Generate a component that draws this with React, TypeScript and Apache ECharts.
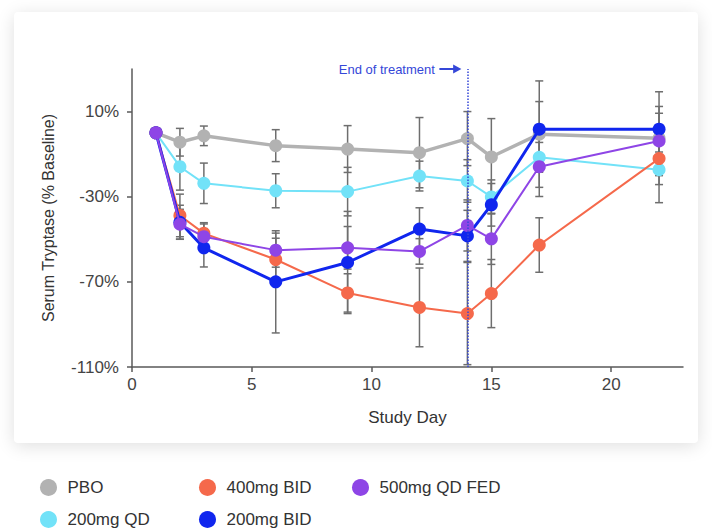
import React, { useEffect, useRef } from "react";
import * as echarts from "echarts";

const days = [1, 2, 3, 6, 9, 12, 14, 15, 17, 22];
const pbo = [0, -4.4, -1.4, -6, -7.6, -9.3, -2.7, -11.3, -0.6, -2.5];
const qd200 = [0, -15.9, -23.7, -27.2, -27.6, -20.3, -22.6, -30.1, -11.5, -17.3];
const bid400 = [0, -38.8, -47.2, -59.5, -75.2, -82, -84.9, -75.5, -52.7, -12.1];
const bid200 = [0, -42, -54, -70, -60.9, -45.2, -48.4, -33.8, 1.7, 1.7];
const fed500 = [0, -42.9, -48.8, -55.1, -54, -55.7, -43.5, -49.8, -15.9, -3.8];

const pboErr = [0, 6.5, 4.6, 7.5, 11, 16.5, 12.7, 18, 25, 21.8];
const qd200Err = [0, 11, 9.5, 8, 11.4, 7, 10, 8, 7, 15.5];
const bid400Err = [0, 10, 5, 10, 9, 18.5, 24, 16, 12.8, 8];
const bid200Err = [0, 8, 9, 24, 24, 10, 12, 10, 13, 10.7];
const fed500Err = [0, 7, 6, 8, 10, 6, 12, 12, 14, 13];

const seriesNames = ["PBO", "200mg QD", "400mg BID", "200mg BID", "500mg QD FED"];
const seriesValues = [pbo, qd200, bid400, bid200, fed500];
const seriesErrors = [pboErr, qd200Err, bid400Err, bid200Err, fed500Err];
const colors = ["#b2b2b2", "#72e2f8", "#f5694b", "#1026ee", "#8e45e6"];
const lineWidths = [3.5, 2, 2, 3, 2];

const xTicks = [0, 5, 10, 15, 20];
const yTicks = [-110, -70, -30, 10];
const endDay = 14;
const endLabel = "End of treatment";

const legendPos = [
  { left: 35, top: 474 },
  { left: 35, top: 506 },
  { left: 194, top: 474 },
  { left: 194, top: 506 },
  { left: 347, top: 474 },
];

const FONT = "'Liberation Sans', Arial, Helvetica, sans-serif";
const AXIS_COLOR = "#5a5a5a";
const ERR_COLOR = "#6e6e6e";
const BLUE_NOTE = "#3547d8";

export default function App() {
  const ref = useRef<HTMLDivElement>(null);

  useEffect(() => {
    if (!ref.current) return;
    const chart = echarts.init(ref.current, null, { renderer: "svg" });

    const errSeries = seriesNames.map((name, si) => ({
      type: "custom",
      name: "err-" + name,
      z: 1,
      silent: true,
      dimensions: ["x", "y", "e"],
      encode: { x: "x", y: "y" },
      data: days
        .map((d, i) => [d, seriesValues[si][i], seriesErrors[si][i]])
        .filter((r) => r[2] > 0),
      renderItem: (params: any, api: any) => {
        const x = api.value(0);
        const m = api.value(1);
        const e = api.value(2);
        const top = api.coord([x, m + e]);
        const bot = api.coord([x, m - e]);
        const hw = 4;
        const style = { stroke: ERR_COLOR, lineWidth: 1.5 };
        return {
          type: "group",
          children: [
            { type: "line", shape: { x1: top[0], y1: top[1], x2: bot[0], y2: bot[1] }, style },
            { type: "line", shape: { x1: top[0] - hw, y1: top[1], x2: top[0] + hw, y2: top[1] }, style },
            { type: "line", shape: { x1: bot[0] - hw, y1: bot[1], x2: bot[0] + hw, y2: bot[1] }, style },
          ],
        };
      },
    }));

    const lineSeries = seriesNames.map((name, si) => {
      const s: any = {
        type: "line",
        name,
        z: 3 + si,
        color: colors[si],
        data: days.map((d, i) => [d, seriesValues[si][i]]),
        symbol: "circle",
        symbolSize: 13,
        showSymbol: true,
        lineStyle: { width: lineWidths[si], color: colors[si] },
        itemStyle: { color: colors[si] },
      };
      if (si === 0) {
        s.markLine = {
          silent: true,
          symbol: ["none", "none"],
          z: 20,
          label: { show: false },
          lineStyle: { type: "dotted", color: BLUE_NOTE, width: 1.5 },
          data: [{ xAxis: endDay }],
        };
        s.markPoint = {
          silent: true,
          z: 20,
          data: [
            {
              coord: [endDay, 30],
              symbol: "path://M0,4L15,4L15,0L24,5L15,10L15,6L0,6Z",
              symbolSize: [22, 9],
              symbolOffset: [-17, 0],
              itemStyle: { color: BLUE_NOTE },
              label: { show: false },
            },
            {
              coord: [endDay, 30],
              symbol: "circle",
              symbolSize: 1,
              itemStyle: { color: "rgba(0,0,0,0)" },
              label: {
                show: true,
                position: "left",
                distance: 32,
                formatter: endLabel,
                color: BLUE_NOTE,
                fontSize: 13,
                fontFamily: "'Liberation Sans Narrow', " + FONT,
              },
            },
          ],
        };
      }
      return s;
    });

    chart.setOption({
      animation: false,
      backgroundColor: "transparent",
      textStyle: { fontFamily: FONT },
      grid: { left: 132, right: 29, top: 69, bottom: 163 },
      legend: seriesNames.map((name, i) => ({
        data: [name],
        left: legendPos[i].left,
        top: legendPos[i].top,
        icon: "circle",
        itemWidth: 28,
        itemHeight: 17,
        selectedMode: false,
        textStyle: { fontSize: 17, color: "#333", fontFamily: FONT },
      })),
      xAxis: {
        type: "value",
        min: 0,
        max: 23,
        interval: 5,
        name: "Study Day",
        nameLocation: "middle",
        nameGap: 42,
        nameTextStyle: { fontSize: 17, color: "#333" },
        axisLine: { show: true, onZero: false, lineStyle: { color: AXIS_COLOR, width: 1.5 } },
        axisTick: { show: true, length: 5, customValues: xTicks, lineStyle: { color: AXIS_COLOR, width: 1.5 } },
        axisLabel: { customValues: xTicks, fontSize: 17, color: "#444", margin: 9 },
        splitLine: { show: false },
      },
      yAxis: {
        type: "value",
        min: -110,
        max: 30,
        interval: 40,
        name: "Serum Tryptase (% Baseline)",
        nameLocation: "middle",
        nameGap: 76,
        nameTextStyle: { fontSize: 16, color: "#333" },
        axisLine: { show: true, onZero: false, lineStyle: { color: AXIS_COLOR, width: 1.5 } },
        axisTick: { show: true, length: 5, customValues: yTicks, lineStyle: { color: AXIS_COLOR, width: 1.5 } },
        axisLabel: { customValues: yTicks, fontSize: 17, color: "#444", margin: 13, formatter: (v: number) => v + "%" },
        splitLine: { show: false },
      },
      series: [...errSeries, ...lineSeries],
    });

    return () => chart.dispose();
  }, []);

  return (
    <div style={{ position: "fixed", left: 0, top: 0, width: 712, height: 530, background: "#fff" }}>
      <div
        style={{
          position: "absolute",
          left: 14,
          top: 12,
          width: 684,
          height: 431,
          background: "#fff",
          borderRadius: 4,
          boxShadow: "0 3px 18px rgba(0,0,0,0.13)",
        }}
      />
      <div ref={ref} style={{ position: "absolute", left: 0, top: 0, width: 712, height: 530 }} />
    </div>
  );
}
